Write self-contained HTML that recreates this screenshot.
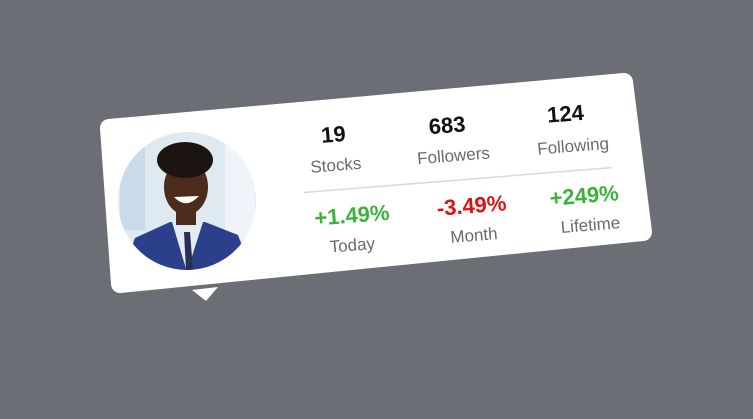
<!DOCTYPE html>
<html><head><meta charset="utf-8"><style>
html,body{margin:0;padding:0;background:#6b6e75;}
svg{display:block}
text{font-family:"Liberation Sans",Arial,sans-serif;text-anchor:middle}
.n{font-weight:bold;font-size:22px;fill:#111}
.l{font-size:17px;fill:#6a6a6a}
.p{font-weight:bold;font-size:22px}
</style></head><body>
<svg width="753" height="419" viewBox="0 0 753 419">
<rect width="753" height="419" fill="#6b6e75"/>
<g>
<path d="M109,128 L624,82 L643,232 L120,284 Z" fill="#fff" stroke="#fff" stroke-width="18" stroke-linejoin="round"/>
<path d="M192,290 L218,287 L206,301 Z" fill="#fff"/>
</g>
<g>
<defs><clipPath id="c"><circle cx="187" cy="201" r="69"/></clipPath></defs>
<g clip-path="url(#c)">
<rect x="110" y="130" width="160" height="150" fill="#dfe9f1"/>
<rect x="120" y="140" width="25" height="90" fill="#c9dbe8"/>
<rect x="225" y="130" width="30" height="110" fill="#eef4f8"/>
<path d="M120,280 L135,238 L170,222 L205,222 L238,235 L255,280 Z" fill="#2c3f8a"/>
<path d="M172,222 L187,272 L203,222 Z" fill="#e6ebf3"/>
<path d="M184,232 L190,232 L193,270 L186,270 Z" fill="#27305a"/>
<ellipse cx="186" cy="187" rx="22" ry="28" fill="#4a2b1c"/>
<rect x="176" y="205" width="20" height="20" fill="#4a2b1c"/>
<ellipse cx="185" cy="160" rx="28" ry="18" fill="#1c1410"/>
<path d="M174,197 Q186,210 199,196 Z" fill="#fff"/>
</g>
</g>
<g transform="translate(-2 -18) rotate(-4.6 460 180)">
<text class="n" x="338" y="150">19</text>
<text class="l" x="338" y="179">Stocks</text>
<text class="n" x="452" y="150">683</text>
<text class="l" x="456" y="179">Followers</text>
<text class="n" x="571" y="148">124</text>
<text class="l" x="576" y="179">Following</text>
<line x1="304" y1="198" x2="613" y2="198" stroke="#d9d9d9" stroke-width="1.5"/>
<text class="p" x="350" y="232" fill="#3bb33b">+1.49%</text>
<text class="l" x="348" y="260">Today</text>
<text class="p" x="470" y="232" fill="#e01010">-3.49%</text>
<text class="l" x="470" y="260">Month</text>
<text class="p" x="583" y="231" fill="#3bb33b">+249%</text>
<text class="l" x="587" y="259">Lifetime</text>
</g>
</svg>
</body></html>
